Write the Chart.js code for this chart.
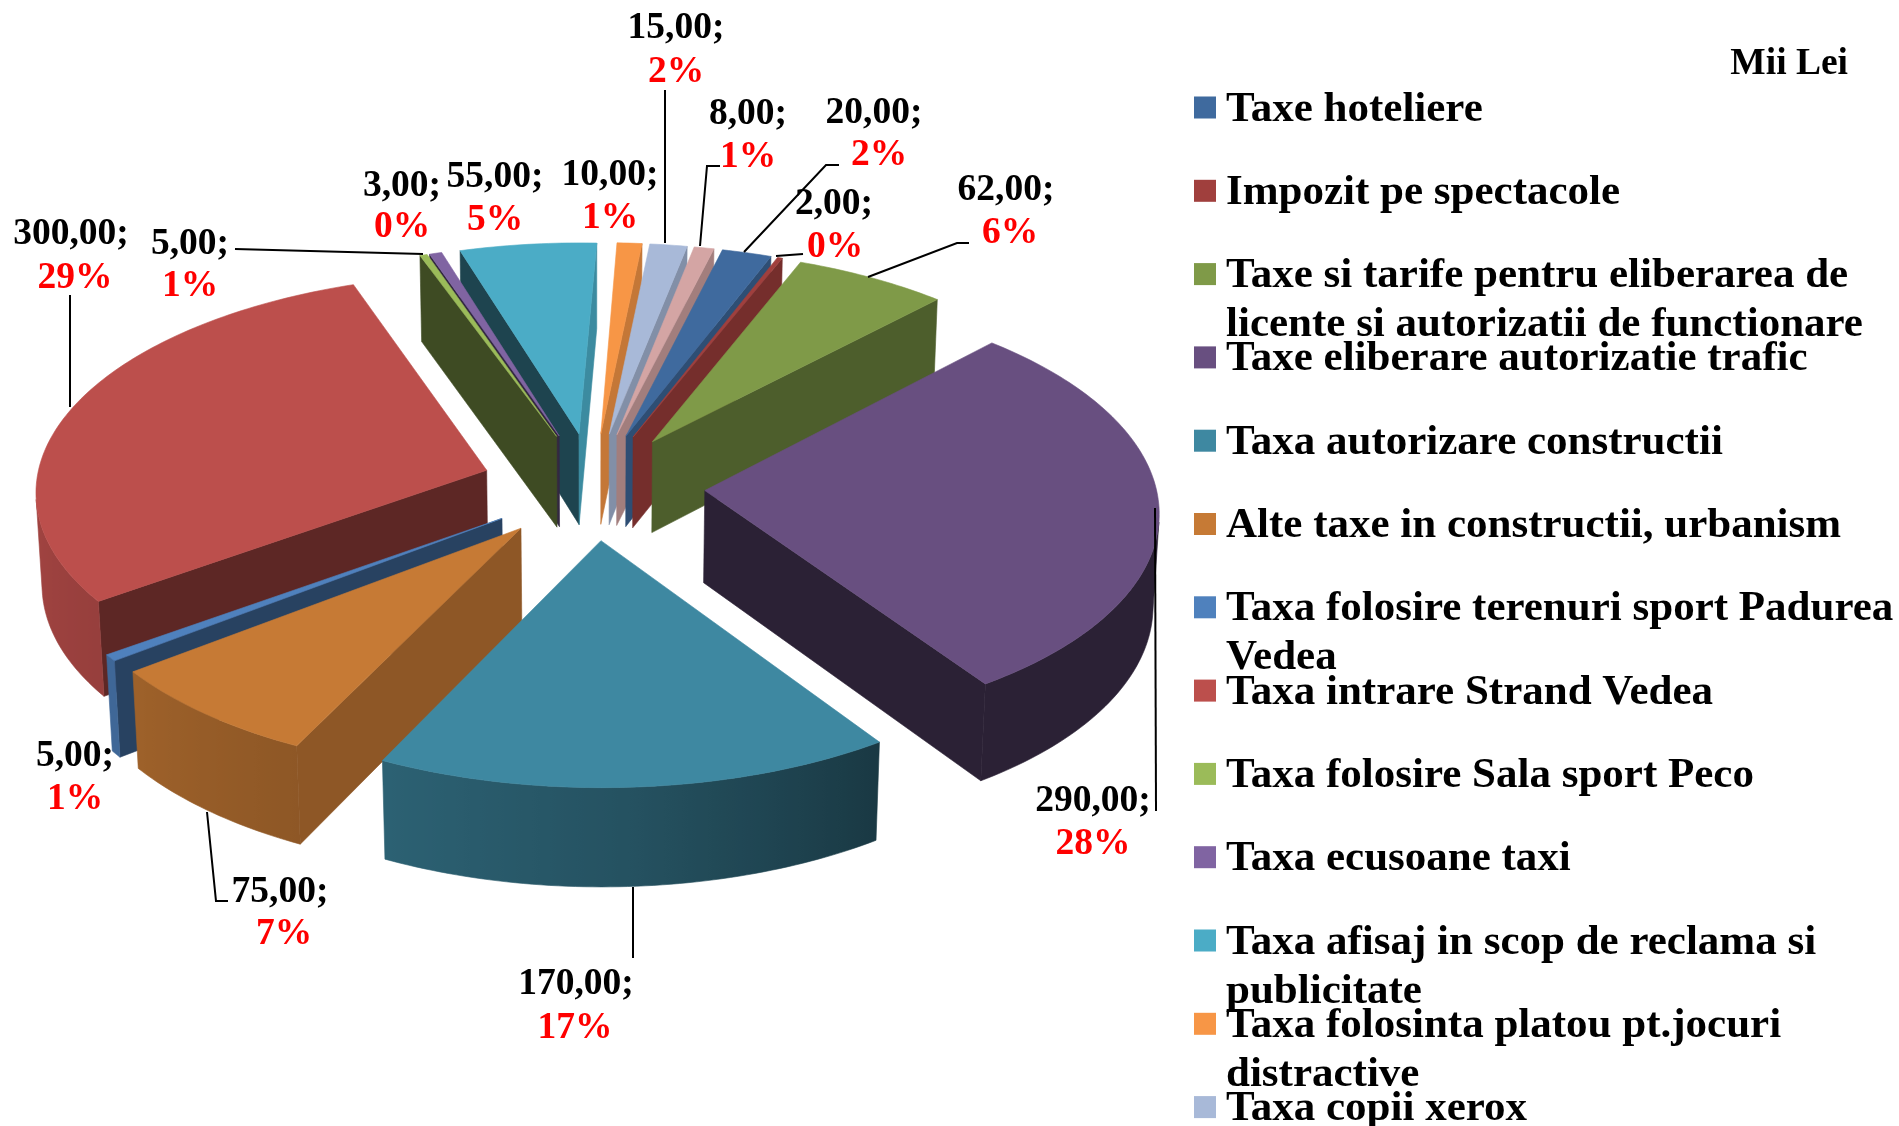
<!DOCTYPE html>
<html><head><meta charset="utf-8">
<style>html,body{margin:0;padding:0;background:#fff}canvas{display:block}</style>
<script src="https://cdn.jsdelivr.net/npm/chart.js@4"></script>
</head><body><canvas id="c" width="1899" height="1126"></canvas>
<script>
// ---- data ----
const categories = [
  ["Taxe hoteliere"],
  ["Impozit pe spectacole"],
  ["Taxe si tarife pentru eliberarea de","licente si autorizatii de functionare"],
  ["Taxe eliberare autorizatie trafic"],
  ["Taxa autorizare constructii"],
  ["Alte taxe in constructii, urbanism"],
  ["Taxa folosire terenuri sport Padurea","Vedea"],
  ["Taxa intrare Strand Vedea"],
  ["Taxa folosire Sala sport Peco"],
  ["Taxa ecusoane taxi"],
  ["Taxa afisaj in scop de reclama si","publicitate"],
  ["Taxa folosinta platou pt.jocuri","distractive"],
  ["Taxa copii xerox"],
  [""] // 14th legend row falls outside the picture in the reference
];
const values = [20,2,62,290,170,75,5,300,3,5,55,10,15,8];
const percentLabels = ["2%","0%","6%","28%","17%","7%","1%","29%","0%","1%","5%","1%","2%","1%"];
const colors = ["#3F6A9E","#A03F3D","#7F9A48","#684F80","#3E88A1","#C67A35","#4F81BD","#BC4F4C","#9BBB59","#8064A2","#4BACC6","#F79646","#A8B9D8","#D4A5A4"];
const unitLabel = "Mii Lei";

// ---- label layout: [value centre x, value baseline, percent centre x, percent baseline] ----
const labelPos = [
  [874,123,879,165],[834,214,835,257],[1006,200,1010,243],[1093,811,1093,854],
  [576,994,575,1038],[280,902,284,944],[75,766,75,809],[71,244,75,288],
  [402,196,402,237],[190,254,190,296],[495,187,495,230],[610,185,610,228],
  [676,38,676,82],[748,124,748,167]
];
const leaders = [
  [[839,165],[826,165],[744,252]],[[803,254],[776,256]],[[969,243],[957,243],[868,277]],
  [[1156,811],[1155,508]],[[633,958],[633,887]],[[228,901],[216,901],[207,812]],
  [],[[70,295],[70,407]],[],[[235,249],[423,254]],[],[],
  [[665,90],[665,243]],[[720,166],[707,166],[700,246]]
];

// ---- view settings ----
const TILT = 28.6*Math.PI/180, CAM = 4620, DEPTH = 106;
const cutShade = [[90,.82],[116,.72],[134,.61],[144,.5],[236,.42],[253,.4],[270,.4]];
const rimShade = [[90,.42],[146,.42],[176,.6],[206,.72],[232,.8],[270,.88]];

function lookup(t,x){ if(x<=t[0][0])return t[0][1];
  for(let i=1;i<t.length;i++) if(x<=t[i][0]) return t[i-1][1]+(t[i][1]-t[i-1][1])*(x-t[i-1][0])/(t[i][0]-t[i-1][0]);
  return t[t.length-1][1]; }
function shade(hex,f){ const n=parseInt(hex.slice(1),16);
  return `rgb(${((n>>16)&255)*f|0},${((n>>8)&255)*f|0},${(n&255)*f|0})`; }

const pie3d = {
  id:'pie3d',
  beforeDatasetsDraw(chart){
    const ctx=chart.ctx, arcs=chart.getDatasetMeta(0).data;
    const proj=(el,ox,oy,x,y,z)=>{
      const wx=x+ox, wy=y+oy;
      const p=CAM/(CAM+wy*Math.cos(TILT)-z*Math.sin(TILT));
      return [el.x+wx*p, el.y-(wy*Math.sin(TILT)+z*Math.cos(TILT))*p];
    };
    const order=arcs.map((el,i)=>({el,i,m:(el.startAngle+el.endAngle)/2}))
      .sort((a,b)=>Math.sin(a.m)-Math.sin(b.m));
    const poly=(pts,col)=>{ctx.beginPath();pts.forEach((p,k)=>k?ctx.lineTo(p[0],p[1]):ctx.moveTo(p[0],p[1]));ctx.closePath();
      ctx.fillStyle=col;ctx.strokeStyle=col;ctx.lineWidth=.6;ctx.fill();ctx.stroke();};
    const front=(a,b,c,d)=>{const q=[a,b,c,d];let s=0;for(let k=0;k<4;k++){const u=q[k],v=q[(k+1)%4];s+=u[0]*v[1]-v[0]*u[1];}return s<0;};
    ctx.save();
    order.forEach(({el,i,m})=>{
      const O=el.options.offset, R=el.outerRadius, col=el.options.backgroundColor;
      const ox=Math.cos(m)*O, oy=-Math.sin(m)*O;
      const P=(a,r,z)=>proj(el,ox,oy,Math.cos(a)*r,-Math.sin(a)*r,z);
      const deg=a=>((a+Math.PI/2)*180/Math.PI%360+360)%360;
      const steps=Math.max(2,Math.ceil((el.endAngle-el.startAngle)/(Math.PI/180)));
      const A=[];for(let k=0;k<=steps;k++)A.push(el.startAngle+(el.endAngle-el.startAngle)*k/steps);
      // cut faces
      const cut=(a,b,c,d,th)=>{ if(front(a,b,c,d)) poly([a,b,c,d],shade(col,lookup(cutShade,th))); };
      const s=el.startAngle,e=el.endAngle;
      cut(P(s,0,0),P(s,R,0),P(s,R,-DEPTH),P(s,0,-DEPTH),(deg(s)-90+360)%360);
      cut(P(e,R,0),P(e,0,0),P(e,0,-DEPTH),P(e,R,-DEPTH),(deg(e)+90)%360);
      // rim: one polygon over the viewer-facing arc, shaded by a horizontal gradient
      const vis=[];
      for(let k=0;k<steps;k++){
        if(front(P(A[k],R,0),P(A[k+1],R,0),P(A[k+1],R,-DEPTH),P(A[k],R,-DEPTH))){
          if(!vis.length)vis.push(A[k]);
          vis.push(A[k+1]);
        }
      }
      if(vis.length>1){
        const tops=vis.map(a=>P(a,R,0)), bots=vis.map(a=>P(a,R,-DEPTH)).reverse();
        const xs=tops.map(p=>p[0]), x0=Math.min(...xs), x1=Math.max(...xs);
        const g=ctx.createLinearGradient(x0,0,x1,0);
        vis.forEach((a,k)=>{
          const t=x1>x0?(xs[k]-x0)/(x1-x0):0;
          g.addColorStop(Math.min(1,Math.max(0,t)),shade(col,lookup(rimShade,deg(a))));
        });
        poly(tops.concat(bots),g);
      }
      // top
      const top=[P(s,0,0)];A.forEach(a=>top.push(P(a,R,0)));
      poly(top,col);
    });
    ctx.restore();
    return false;
  },
  afterDraw(chart){
    const ctx=chart.ctx;
    ctx.save();
    // leaders
    ctx.strokeStyle='#000';ctx.lineWidth=2;
    leaders.forEach(l=>{ if(!l.length)return; ctx.beginPath();l.forEach((p,k)=>k?ctx.lineTo(p[0],p[1]):ctx.moveTo(p[0],p[1]));ctx.stroke();});
    // data labels
    ctx.font='bold 37.5px "Liberation Serif"';ctx.textAlign='center';ctx.textBaseline='alphabetic';
    values.forEach((v,i)=>{
      const q=labelPos[i];
      ctx.fillStyle='#000';ctx.fillText(v.toFixed(2).replace('.',',')+';',q[0],q[1]);
      ctx.fillStyle='#FF0000';ctx.fillText(percentLabels[i],q[2],q[3]);
    });
    ctx.textAlign='right';ctx.fillStyle='#000';ctx.fillText(unitLabel,1848,74);
    // legend
    ctx.textAlign='left';ctx.font='bold 43px "Liberation Serif"';
    const bg=chart.data.datasets[0].backgroundColor;
    categories.forEach((lines,i)=>{
      if(!lines[0])return;
      const cy=107.5+83.3*i;
      ctx.fillStyle=bg[i];ctx.fillRect(1194,cy-11,22,22);
      ctx.fillStyle='#000';
      lines.forEach((t,k)=>ctx.fillText(t,1226,cy+13+k*49));
    });
    ctx.restore();
  }
};

new Chart(document.getElementById('c'),{
  type:'pie',
  data:{labels:categories.map(l=>l.join(' ')),datasets:[{data:values,backgroundColor:colors,borderWidth:0,offset:112,rotation:14,radius:451}]},
  options:{responsive:false,animation:false,
    layout:{padding:{left:0,top:0,right:713,bottom:154}},
    plugins:{legend:{display:false},tooltip:{enabled:false}}},
  plugins:[pie3d]
});
</script></body></html>
